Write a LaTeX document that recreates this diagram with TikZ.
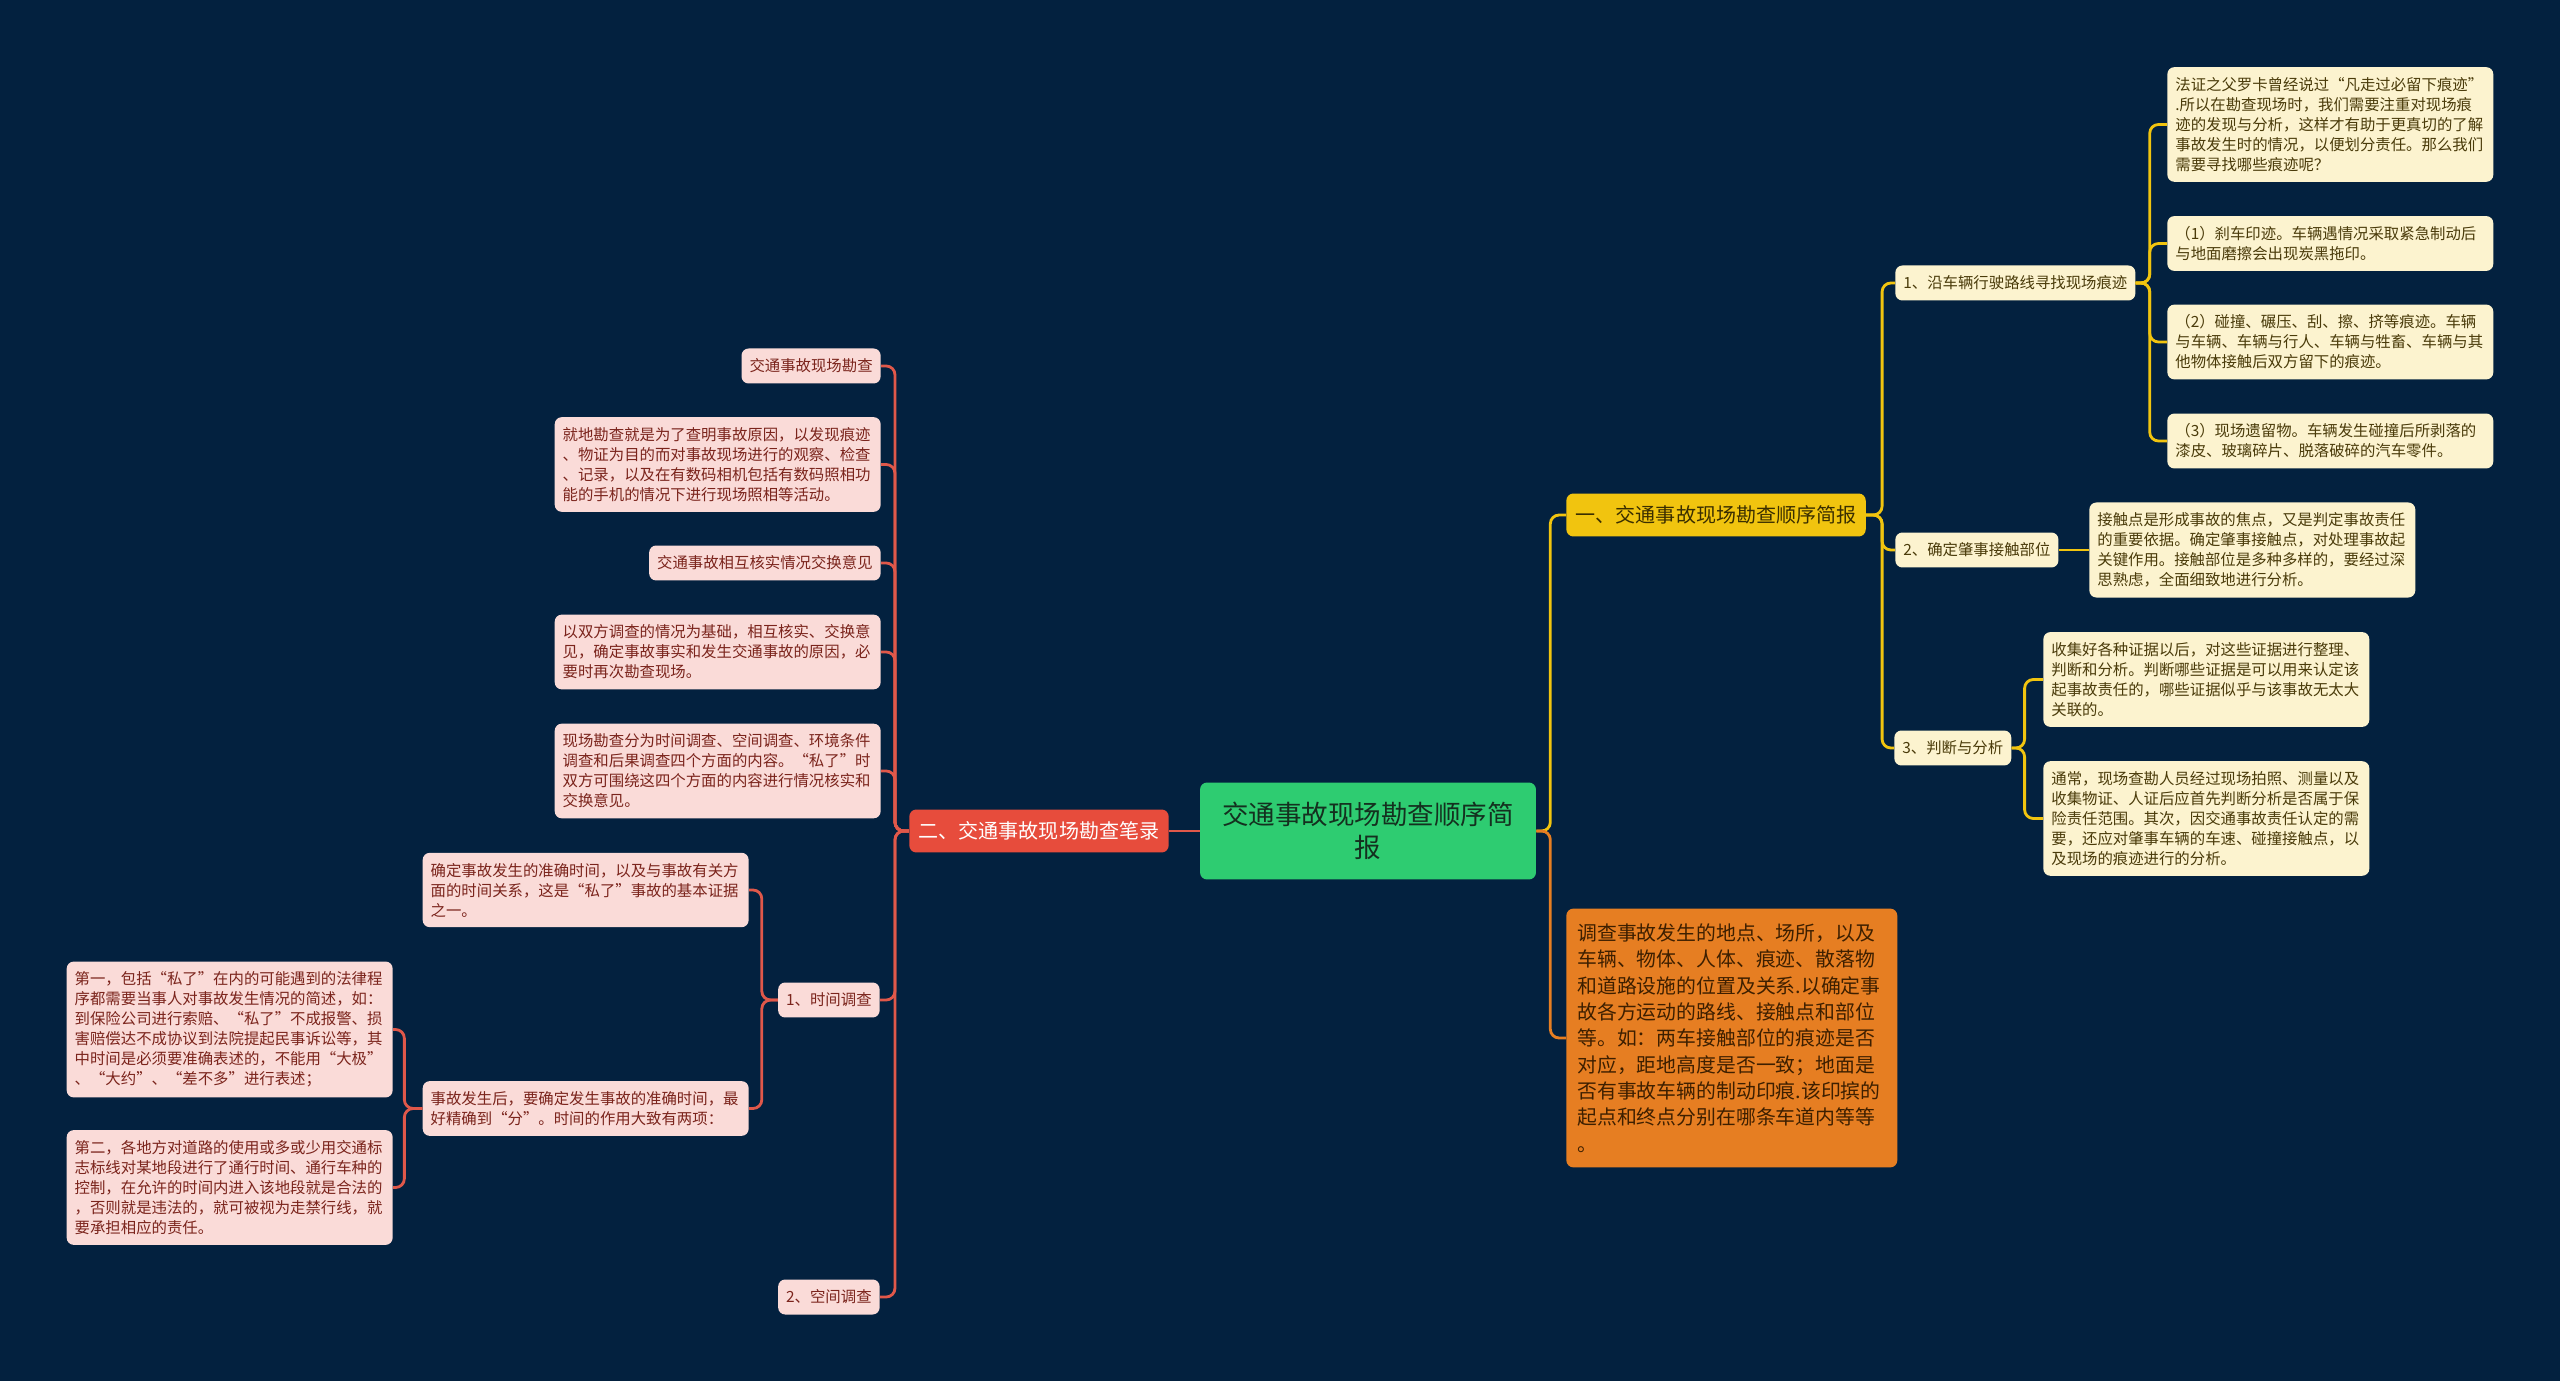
\documentclass[tikz,border=0pt]{standalone}
\usepackage{fontspec}
\setmainfont{Noto Sans CJK SC}
\usepackage{xcolor}
\usepackage{tikz}

\definecolor{navybg}{HTML}{03213F}
\definecolor{rootgreen}{HTML}{2ECC71}
\definecolor{roottext}{HTML}{14301F}
\definecolor{sunfill}{HTML}{F1C40F}
\definecolor{suntext}{HTML}{3A2E00}
\definecolor{creamfill}{HTML}{FCF3CF}
\definecolor{creamtext}{HTML}{4A3B0A}
\definecolor{redfill}{HTML}{E74C3C}
\definecolor{pinkfill}{HTML}{FADBD8}
\definecolor{pinktext}{HTML}{7B241C}
\definecolor{redline}{HTML}{E0584A}
\definecolor{orangefill}{HTML}{E67E22}
\definecolor{orangetext}{HTML}{3D1F00}

\begin{document}
\begin{tikzpicture}[
  x=0.02cm, y=-0.02cm,
  root/.style={
    rectangle,
    rounded corners=4pt,
    fill=rootgreen,
    text=roottext,
    align=center,
    minimum width=6.72cm,
    minimum height=1.94cm,
    font=\fontsize{15.1pt}{18.8pt}\selectfont
  },
  topic/.style={
    rectangle,
    rounded corners=4pt,
    inner xsep=5.4pt,
    minimum height=0.86cm,
    font=\fontsize{11.4pt}{13pt}\selectfont
  },
  memo/.style={
    rectangle,
    rounded corners=4pt,
    fill=orangefill,
    text=orangetext,
    align=left,
    text width=6.18cm,
    inner xsep=0.22cm,
    inner ysep=0.3cm,
    font=\fontsize{11.3pt}{15pt}\selectfont
  },
  leafy/.style={
    rectangle,
    rounded corners=4pt,
    fill=creamfill,
    text=creamtext,
    inner xsep=0.16cm,
    minimum height=0.7cm,
    font=\fontsize{8.76pt}{11.38pt}\selectfont
  },
  noter/.style={leafy, align=left, text width=6.2cm, inner ysep=5.8pt},
  leafp/.style={leafy, fill=pinkfill, text=pinktext},
  notel/.style={noter, fill=pinkfill, text=pinktext},
  ylink/.style={draw=sunfill, line width=1.6pt, rounded corners=5pt},
  rlink/.style={draw=redline, line width=1.6pt, rounded corners=5pt},
  olink/.style={draw=orangefill, line width=1.6pt, rounded corners=5pt}
]

\fill[navybg] (0,0) rectangle (2560,1381);
\useasboundingbox (0,0) rectangle (2560,1381);

\node[root] (root) at (1368, 831) {交通事故现场勘查顺序简\\报};

\node[topic, fill=sunfill, text=suntext, anchor=west] (secA) at (1566, 515) {一、交通事故现场勘查顺序简报};
\node[memo, anchor=west] (memo) at (1566, 1038) {调查事故发生的地点、场所，以及\\车辆、物体、人体、痕迹、散落物\\和道路设施的位置及关系.以确定事\\故各方运动的路线、接触点和部位\\等。如：两车接触部位的痕迹是否\\对应，距地高度是否一致；地面是\\否有事故车辆的制动印痕.该印摈的\\起点和终点分别在哪条车道内等等\\。};
\node[topic, fill=redfill, text=white, anchor=east] (secB) at (1169, 831) {二、交通事故现场勘查笔录};

\node[leafy, anchor=west] (trace) at (1895, 283) {1、沿车辆行驶路线寻找现场痕迹};
\node[leafy, anchor=west] (contact) at (1895, 550) {2、确定肇事接触部位};
\node[leafy, anchor=west] (judge) at (1894, 748) {3、判断与分析};

\node[noter, anchor=west] (traceIntro) at (2167, 124.5) {法证之父罗卡曾经说过“凡走过必留下痕迹”\\.所以在勘查现场时，我们需要注重对现场痕\\迹的发现与分析，这样才有助于更真切的了解\\事故发生时的情况，以便划分责任。那么我们\\需要寻找哪些痕迹呢？};
\node[noter, anchor=west] (traceOne) at (2167, 243.5) {（1）刹车印迹。车辆遇情况采取紧急制动后\\与地面磨擦会出现炭黑拖印。};
\node[noter, anchor=west] (traceTwo) at (2167, 342) {（2）碰撞、碾压、刮、擦、挤等痕迹。车辆\\与车辆、车辆与行人、车辆与牲畜、车辆与其\\他物体接触后双方留下的痕迹。};
\node[noter, anchor=west] (traceThree) at (2167, 441) {（3）现场遗留物。车辆发生碰撞后所剥落的\\漆皮、玻璃碎片、脱落破碎的汽车零件。};
\node[noter, anchor=west] (contactNote) at (2089, 550) {接触点是形成事故的焦点，又是判定事故责任\\的重要依据。确定肇事接触点，对处理事故起\\关键作用。接触部位是多种多样的，要经过深\\思熟虑，全面细致地进行分析。};
\node[noter, anchor=west] (judgeOne) at (2043, 679.5) {收集好各种证据以后，对这些证据进行整理、\\判断和分析。判断哪些证据是可以用来认定该\\起事故责任的，哪些证据似乎与该事故无太大\\关联的。};
\node[noter, anchor=west] (judgeTwo) at (2043, 818.5) {通常，现场查勘人员经过现场拍照、测量以及\\收集物证、人证后应首先判断分析是否属于保\\险责任范围。其次，因交通事故责任认定的需\\要，还应对肇事车辆的车速、碰撞接触点，以\\及现场的痕迹进行的分析。};

\node[leafp, anchor=east] (survey) at (881, 366) {交通事故现场勘查};
\node[notel, anchor=east] (surveyNote) at (881, 464.5) {就地勘查就是为了查明事故原因，以发现痕迹\\、物证为目的而对事故现场进行的观察、检查\\、记录，以及在有数码相机包括有数码照相功\\能的手机的情况下进行现场照相等活动。};
\node[leafp, anchor=east] (verify) at (881, 563) {交通事故相互核实情况交换意见};
\node[notel, anchor=east] (verifyNote) at (881, 652) {以双方调查的情况为基础，相互核实、交换意\\见，确定事故事实和发生交通事故的原因，必\\要时再次勘查现场。};
\node[notel, anchor=east] (scopeNote) at (881, 771) {现场勘查分为时间调查、空间调查、环境条件\\调查和后果调查四个方面的内容。“私了”时\\双方可围绕这四个方面的内容进行情况核实和\\交换意见。};
\node[leafp, anchor=east] (timeInv) at (880, 1000) {1、时间调查};
\node[leafp, anchor=east] (spaceInv) at (880, 1297) {2、空间调查};

\node[notel, anchor=east] (timeOne) at (749, 890) {确定事故发生的准确时间，以及与事故有关方\\面的时间关系，这是“私了”事故的基本证据\\之一。};
\node[notel, anchor=east] (timeTwo) at (749, 1108.5) {事故发生后，要确定发生事故的准确时间，最\\好精确到“分”。时间的作用大致有两项：};
\node[notel, anchor=east] (useOne) at (393, 1029.5) {第一，包括“私了”在内的可能遇到的法律程\\序都需要当事人对事故发生情况的简述，如：\\到保险公司进行索赔、“私了”不成报警、损\\害赔偿达不成协议到法院提起民事诉讼等，其\\中时间是必须要准确表述的，不能用“大极”\\、“大约”、“差不多”进行表述；};
\node[notel, anchor=east] (useTwo) at (393, 1187.5) {第二，各地方对道路的使用或多或少用交通标\\志标线对某地段进行了通行时间、通行车种的\\控制，在允许的时间内进入该地段就是合法的\\，否则就是违法的，就可被视为走禁行线，就\\要承担相应的责任。};

\draw[ylink] (root.east) -- ++(14,0) |- (secA.west);
\draw[olink] (root.east) -- ++(14,0) |- (memo.west);
\draw[rlink] (root.west) -- (secB.east);

\foreach \kid in {trace, contact, judge}
  \draw[ylink] (secA.east) -- ++(16,0) |- (\kid.west);
\foreach \kid in {traceIntro, traceOne, traceTwo, traceThree}
  \draw[ylink] (trace.east) -- ++(14,0) |- (\kid.west);
\draw[ylink] (contact.east) -- (contactNote.west);
\foreach \kid in {judgeOne, judgeTwo}
  \draw[ylink] (judge.east) -- ++(13,0) |- (\kid.west);

\foreach \kid in {survey, surveyNote, verify, verifyNote, scopeNote, timeInv, spaceInv}
  \draw[rlink] (secB.west) -- ++(-14,0) |- (\kid.east);
\foreach \kid in {timeOne, timeTwo}
  \draw[rlink] (timeInv.west) -- ++(-16,0) |- (\kid.east);
\foreach \kid in {useOne, useTwo}
  \draw[rlink] (timeTwo.west) -- ++(-18,0) |- (\kid.east);

\end{tikzpicture}
\end{document}
